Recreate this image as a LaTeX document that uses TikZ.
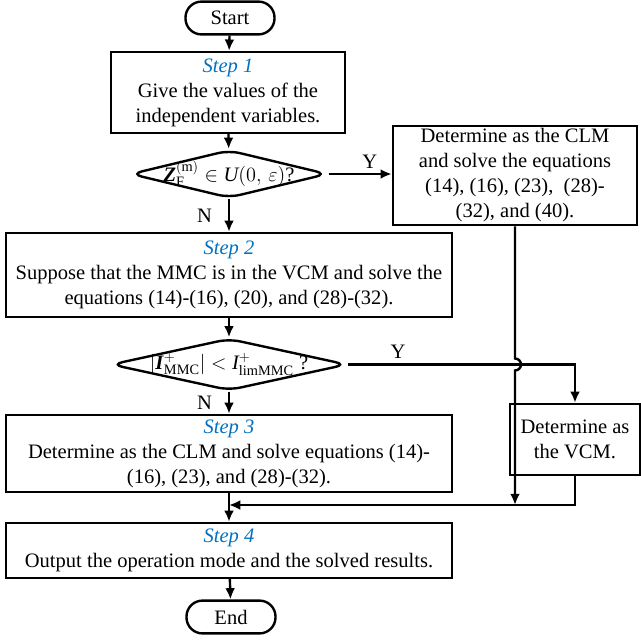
\documentclass[tikz,border=0pt]{standalone}
\usepackage{fontspec}
\setmainfont{Liberation Serif}
\usetikzlibrary{arrows.meta,shapes.geometric,calc}

\definecolor{stepblue}{RGB}{0,112,192}
\newcommand\stepname[1]{\textcolor{stepblue}{\textit{Step #1}}}

\begin{document}
\begin{tikzpicture}[x=0.025cm, y=-0.025cm, line width=1.7pt,
  font=\fontsize{14.6}{17.8}\selectfont,
  box/.style={draw, rectangle, align=center, inner sep=2pt},
  term/.style={draw, rectangle, rounded corners=0.4cm, minimum width=2.225cm, minimum height=0.82cm},
  dec/.style={draw, diamond, rounded corners=8pt, inner sep=0pt},
  arr/.style={-{Latex[length=8pt,width=7pt]}}]

% page size in pixels of the reference (641 x 640)
\useasboundingbox (0,0) rectangle (641,640);

% ---- main column ----
\node[term] (start) at (230,18) {Start};
\node[box, minimum width=5.85cm, minimum height=2.025cm] (step1) at (228,92.5)
  {\stepname{1}\\Give the values of the\\independent variables.};
\node[dec, minimum width=4.925cm, minimum height=1.2cm,
  label=center:{$\textbf{\textit{Z}}_{\mathrm{F}}^{(\mathrm{m})} \in \mathit{U}(0,\,\varepsilon)$?}]
  (dec1) at (229,174) {};
\node[box, minimum width=11.15cm, minimum height=2.1cm] (step2) at (229,275)
  {\stepname{2}\\Suppose that the MMC is in the VCM and solve the\\equations (14)-(16), (20), and (28)-(32).};
\node[dec, minimum width=5.9cm, minimum height=1.3cm,
  label=center:{$\left|\textbf{\textit{I}}^{+}_{\mathrm{MMC}}\right| < \mathit{I}^{+}_{\mathrm{limMMC}}$ ?}]
  (dec2) at (229,364.5) {};
\node[box, minimum width=11.15cm, minimum height=1.925cm] (step3) at (229,453.5)
  {\stepname{3}\\Determine as the CLM and solve equations (14)-\\(16), (23), and (28)-(32).};
\node[box, minimum width=11.15cm, minimum height=1.375cm] (step4) at (229,550.5)
  {\stepname{4}\\Output the operation mode and the solved results.};
\node[term] (stop) at (231,617) {End};

% ---- right column ----
\node[box, minimum width=6.1cm, minimum height=2.425cm] (clm) at (515,175.5)
  {Determine as the CLM\\and solve the equations\\(14), (16), (23),~ (28)-\\(32), and (40).};
\node[box, minimum width=3.25cm, minimum height=1.775cm] (vcm) at (575,439.5)
  {Determine as\\the VCM.};

% junction where the right branches come back
\coordinate (merge) at (229,505);

% ---- connectors ----
\draw[arr] (start) -- (step1);
\draw[arr] (step1) -- (dec1);
\draw[arr] (dec1.east) -- (dec1.east -| clm.west) node[pos=0.65, above] {Y};
\draw[arr] (dec1) -- (step2) node[midway, left, xshift=-8pt] {N};
\draw[arr] (step2) -- (dec2);
\draw[arr] (dec2) -- (step3) node[midway, left, xshift=-8pt] {N};
\draw[arr] (dec2.east) -| (vcm.north) node[pos=0.11, above] {Y};
\draw[arr] (clm.south) -- ($(clm.south |- dec2.east)+(0,-6)$)
  arc[start angle=90, end angle=-90, radius=0.15cm] -- (clm.south |- merge);
\draw[arr] (vcm.south) |- (merge);
\draw[arr] (step3) -- (step4);
\draw[arr] (step4) -- (stop);

\end{tikzpicture}
\end{document}
